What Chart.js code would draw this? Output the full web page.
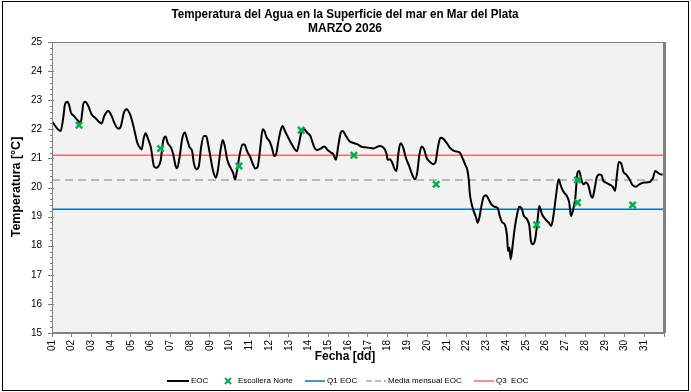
<!DOCTYPE html>
<html><head><meta charset="utf-8">
<script src="https://cdn.jsdelivr.net/npm/chart.js@4.4.1/dist/chart.umd.min.js"></script>
<style>html,body{margin:0;padding:0;background:#fff;}#wrap{width:691px;height:392px;position:relative;}</style>
</head><body><div id="wrap"><canvas id="c" width="691" height="392"></canvas></div>
<script>
const titleLines = ['Temperatura del Agua en la Superficie del mar en Mar del Plata', 'MARZO 2026'];
const xTitle = 'Fecha [dd]';
const yTitle = 'Temperatura [°C]';
const dayLabels = ['01','02','03','04','05','06','07','08','09','10','11','12','13','14','15','16','17','18','19','20','21','22','23','24','25','26','27','28','29','30','31'];
const legendLabels = ['EOC', 'Escollera Norte', 'Q1 EOC', 'Media mensual EOC', 'Q3  EOC'];

// EOC continuous series (fractional day, °C)
const eocDay = [1.00,1.44,1.57,1.66,1.79,1.88,1.96,2.11,2.25,2.45,2.53,2.58,2.68,2.84,3.00,3.18,3.43,3.51,3.65,3.85,4.02,4.19,4.36,4.49,4.64,4.78,4.95,5.08,5.20,5.32,5.45,5.54,5.65,5.74,5.87,6.01,6.16,6.25,6.38,6.50,6.63,6.75,6.87,7.03,7.14,7.26,7.34,7.47,7.59,7.73,7.84,7.98,8.10,8.18,8.32,8.44,8.55,8.69,8.81,8.91,9.03,9.16,9.31,9.41,9.53,9.65,9.75,9.87,10.04,10.17,10.27,10.37,10.51,10.65,10.75,10.88,11.05,11.18,11.30,11.42,11.56,11.67,11.76,11.88,12.01,12.14,12.26,12.35,12.47,12.60,12.69,12.80,12.97,13.10,13.27,13.41,13.52,13.65,13.78,13.91,14.09,14.20,14.32,14.45,14.62,14.79,14.96,15.13,15.26,15.38,15.50,15.63,15.72,15.89,16.06,16.31,16.48,16.65,16.85,17.02,17.27,17.61,17.83,17.95,18.00,18.11,18.23,18.36,18.45,18.54,18.65,18.79,18.92,19.09,19.24,19.38,19.50,19.60,19.72,19.85,19.97,20.14,20.31,20.42,20.56,20.68,20.81,20.98,21.15,21.40,21.65,21.82,21.94,22.03,22.11,22.16,22.24,22.36,22.48,22.56,22.65,22.75,22.87,22.99,23.12,23.26,23.42,23.58,23.68,23.80,23.93,24.05,24.10,24.17,24.23,24.33,24.43,24.56,24.67,24.81,24.89,25.06,25.18,25.26,25.36,25.48,25.60,25.68,25.82,25.99,26.16,26.29,26.41,26.53,26.66,26.78,26.91,27.08,27.20,27.29,27.40,27.50,27.62,27.71,27.79,27.91,28.04,28.18,28.30,28.38,28.48,28.59,28.72,28.84,28.93,29.06,29.23,29.40,29.52,29.61,29.71,29.83,29.95,30.08,30.25,30.41,30.58,30.75,31.00,31.26,31.43,31.56,31.68,31.85,31.93];
const eocTemp = [22.26,21.94,22.40,22.86,22.95,22.80,22.57,22.46,22.34,22.23,22.57,22.86,22.95,22.80,22.52,22.40,22.23,22.20,22.46,22.63,22.46,22.17,22.02,22.11,22.57,22.69,22.52,22.23,21.89,21.54,21.37,21.31,21.71,21.86,21.66,21.37,20.74,20.68,20.72,20.91,21.60,21.75,21.52,21.37,21.14,20.74,20.66,21.08,21.66,21.89,21.66,21.37,21.25,20.86,20.63,20.74,21.37,21.77,21.77,21.48,21.03,20.57,20.34,20.63,21.25,21.63,21.43,20.97,20.68,20.51,20.28,20.57,21.14,21.48,21.48,21.25,21.03,20.80,20.65,20.72,21.43,22.00,21.94,21.71,21.60,21.37,21.08,21.14,21.60,22.00,22.11,21.94,21.71,21.54,21.34,21.25,21.54,21.94,22.00,21.89,21.77,21.54,21.34,21.29,21.34,21.41,21.29,21.20,21.14,20.95,21.43,21.89,21.94,21.77,21.60,21.52,21.48,21.41,21.38,21.37,21.34,21.43,21.34,21.14,20.95,20.97,20.86,20.63,20.57,21.14,21.52,21.37,21.03,20.74,20.45,20.28,20.51,21.08,21.41,21.31,21.03,20.88,20.80,20.86,21.43,21.71,21.68,21.54,21.37,21.25,21.20,20.97,20.77,20.63,20.28,19.82,19.48,19.19,18.97,18.79,18.97,19.36,19.69,19.73,19.59,19.42,19.34,19.29,19.02,18.81,18.73,18.33,17.82,17.93,17.53,17.99,18.56,19.08,19.34,19.25,19.04,18.91,18.68,18.16,18.05,18.24,18.91,19.36,19.08,18.91,18.79,18.68,19.08,19.71,20.28,20.05,19.85,19.71,19.48,19.02,19.25,19.59,20.51,20.57,20.34,20.11,20.17,20.05,19.71,19.65,19.94,20.34,20.45,20.42,20.22,20.17,20.11,20.03,19.88,20.39,20.88,20.83,20.53,20.45,20.28,20.08,20.03,20.11,20.17,20.19,20.31,20.57,20.51,20.45,20.45];

// Escollera Norte observations
const escDay  = [2.37, 6.50, 10.47, 13.62, 16.29, 20.46, 25.55, 27.62, 27.62, 30.41];
const escTemp = [22.14, 21.34, 20.74, 21.97, 21.11, 20.11, 18.72, 20.26, 19.48, 19.40];

// Monthly reference levels
const q1Value = 19.25;
const meanValue = 20.26;
const q3Value = 21.11;
const xRange = [1, 32];
const yRange = [15, 25];

const eocData = eocDay.map((d, i) => ({x: d, y: eocTemp[i]}));
const escData = escDay.map((d, i) => ({x: d, y: escTemp[i]}));
const flat = v => xRange.map(x => ({x: x, y: v}));

const FONT = '"Liberation Sans", Arial, sans-serif';

const decor = {
  id: 'decor',
  beforeDraw(chart) {
    const {ctx, chartArea: a} = chart;
    ctx.save();
    ctx.fillStyle = '#fff';
    ctx.fillRect(0, 0, chart.width, chart.height);
    ctx.fillStyle = '#f2f2f2';
    ctx.fillRect(a.left, a.top, a.right - a.left, a.bottom - a.top);
    ctx.restore();
  },
  afterDraw(chart) {
    const {ctx, chartArea: a, scales} = chart;
    const ys = scales.y;
    ctx.save();
    // y ticks (major + minor)
    ctx.strokeStyle = '#808080';
    ctx.lineWidth = 1;
    for (let k = 0; k <= 50; k++) {
      const v = 15 + k * 0.2;
      const py = Math.round(ys.getPixelForValue(v)) + 0.5;
      const major = k % 5 === 0;
      ctx.beginPath();
      ctx.moveTo(a.left - (major ? 4 : 2), py);
      ctx.lineTo(a.left + (major ? 2 : 1), py);
      ctx.stroke();
    }
    // plot border
    ctx.strokeStyle = '#808080';
    ctx.lineWidth = 1;
    ctx.strokeRect(a.left + 0.5, a.top + 0.5, a.right - a.left - 1, a.bottom - a.top - 1);
    ctx.lineWidth = 3;
    ctx.beginPath();
    ctx.moveTo(a.right + 0.5, a.top);
    ctx.lineTo(a.right + 0.5, a.bottom);
    ctx.stroke();
    // outer frame
    ctx.strokeStyle = '#000';
    ctx.lineWidth = 1;
    ctx.strokeRect(2.5, 1.5, 686, 389);
    // titles
    ctx.fillStyle = '#000';
    ctx.textAlign = 'center';
    ctx.textBaseline = 'middle';
    ctx.font = 'bold 12px ' + FONT;
    ctx.fillText(titleLines[0], 345, 15, 347);
    ctx.fillText(titleLines[1], 345, 29);
    ctx.fillText(xTitle, 345, 357);
    ctx.save();
    ctx.translate(17, 187);
    ctx.rotate(-Math.PI / 2);
    ctx.font = 'bold 12.5px ' + FONT;
    ctx.fillText(yTitle, 0, 0);
    ctx.restore();
    // legend
    const ly = 381;
    ctx.font = '8px ' + FONT;
    ctx.textAlign = 'left';
    ctx.lineWidth = 2;
    ctx.strokeStyle = '#000';
    ctx.beginPath(); ctx.moveTo(167, ly); ctx.lineTo(189, ly); ctx.stroke();
    ctx.fillText(legendLabels[0], 191, ly);
    ctx.strokeStyle = '#00b050'; ctx.lineWidth = 2;
    ctx.beginPath(); ctx.moveTo(225, ly - 3); ctx.lineTo(231, ly + 3); ctx.moveTo(231, ly - 3); ctx.lineTo(225, ly + 3); ctx.stroke();
    ctx.fillText(legendLabels[1], 238, ly);
    ctx.strokeStyle = '#0070c0'; ctx.lineWidth = 1.5;
    ctx.beginPath(); ctx.moveTo(305, ly); ctx.lineTo(325, ly); ctx.stroke();
    ctx.fillText(legendLabels[2], 327, ly);
    ctx.strokeStyle = '#a6a6a6'; ctx.setLineDash([6, 3]);
    ctx.beginPath(); ctx.moveTo(366, ly); ctx.lineTo(386, ly); ctx.stroke();
    ctx.setLineDash([]);
    ctx.fillText(legendLabels[3], 388, ly);
    ctx.strokeStyle = '#ff6666';
    ctx.beginPath(); ctx.moveTo(474, ly); ctx.lineTo(494, ly); ctx.stroke();
    ctx.fillText(legendLabels[4], 496, ly);
    ctx.restore();
  }
};

new Chart(document.getElementById('c'), {
  type: 'line',
  data: {
    datasets: [
      {label: legendLabels[2], data: flat(q1Value), borderColor: '#0070c0', borderWidth: 1.5, pointRadius: 0, order: 3},
      {label: legendLabels[3], data: flat(meanValue), borderColor: '#a6a6a6', borderWidth: 1.5, borderDash: [8, 5], pointRadius: 0, order: 3},
      {label: legendLabels[4], data: flat(q3Value), borderColor: '#ff6666', borderWidth: 1.5, pointRadius: 0, order: 3},
      {label: legendLabels[0], data: eocData, borderColor: '#000', borderWidth: 2, pointRadius: 0, tension: 0.35, cubicInterpolationMode: 'monotone', order: 2},
      {label: legendLabels[1], data: escData, showLine: false, pointStyle: 'crossRot', pointRadius: 4.5, borderColor: '#00b050', backgroundColor: '#00b050', pointBorderWidth: 2.5, order: 1}
    ]
  },
  options: {
    responsive: false,
    animation: false,
    devicePixelRatio: 1,
    layout: {padding: {left: 0, right: 27, top: 42, bottom: 0}},
    plugins: {legend: {display: false}, title: {display: false}, tooltip: {enabled: false}},
    scales: {
      x: {
        type: 'linear', min: xRange[0], max: xRange[1],
        afterFit: s => { s.height = 59; },
        grid: {drawOnChartArea: false, drawTicks: true, tickLength: 4, tickColor: '#808080'},
        border: {color: '#808080'},
        ticks: {stepSize: 1, autoSkip: false, maxRotation: 90, minRotation: 90, padding: 3, color: '#000',
          font: {family: FONT, size: 10},
          callback: v => dayLabels[v - 1] || ''}
      },
      y: {
        min: yRange[0], max: yRange[1],
        afterFit: s => { s.width = 52; },
        grid: {drawOnChartArea: false, drawTicks: false},
        border: {color: '#808080'},
        ticks: {stepSize: 1, padding: 10, color: '#000', font: {family: FONT, size: 10}}
      }
    }
  },
  plugins: [decor]
});
</script></body></html>
